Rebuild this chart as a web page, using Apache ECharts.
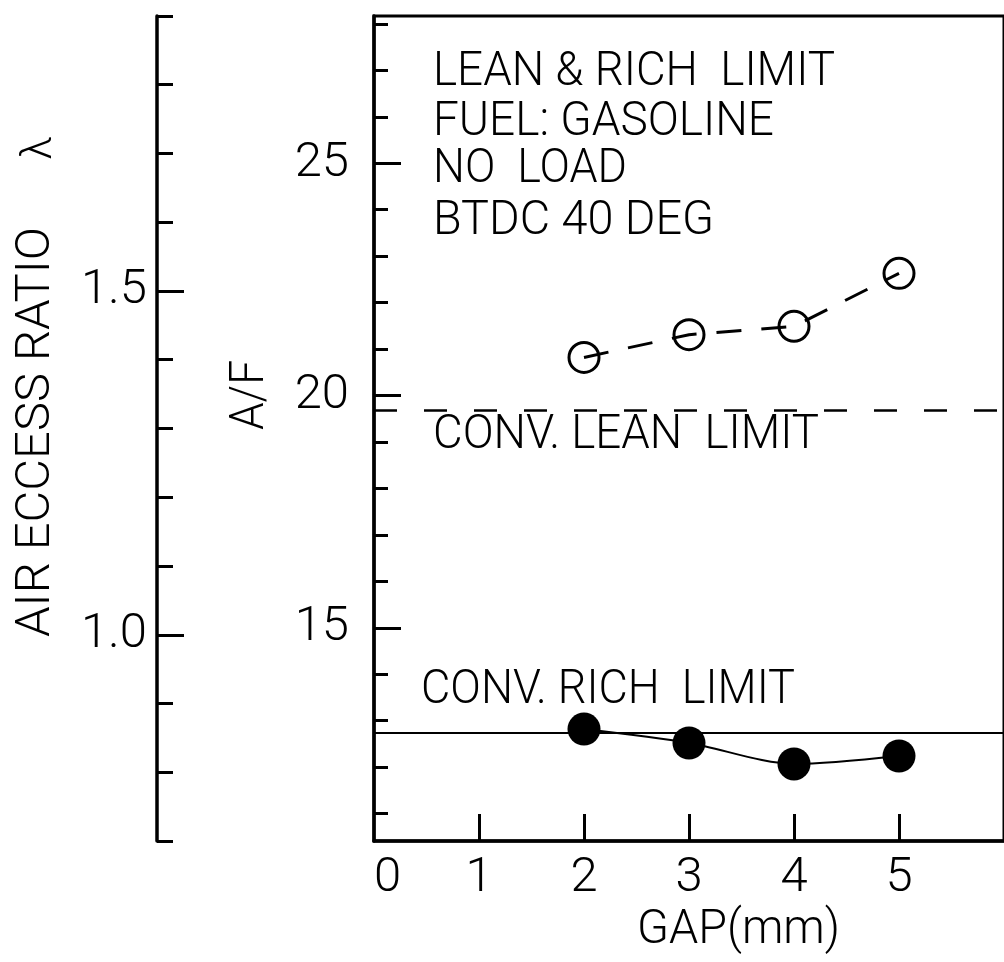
<!DOCTYPE html>
<html>
<head>
<meta charset="utf-8">
<script src="https://cdn.jsdelivr.net/npm/echarts@6/dist/echarts.min.js"></script>
<style>
  html, body { margin: 0; padding: 0; background: #fff; }
  #chart { width: 1004px; height: 962px; }
</style>
</head>
<body>
<div id="chart"></div>
<script>
// Lean and rich misfire limits of the engine versus spark-plug gap
const gapMM = [2, 3, 4, 5];
const leanLimitAF = [20.82, 21.31, 21.49, 22.63];
const richLimitAF = [12.82, 12.52, 12.07, 12.24];
const convLeanAF = 19.68;
const convRichAF = 12.74;

// Axis ranges and tick positions
const gapRange = [0, 6];
const afRange = [10.41, 28.17];
const lambdaRange = [0.7, 1.9];
const gapTicks = [1, 2, 3, 4, 5];
const gapLabels = [0, 1, 2, 3, 4, 5];
const afMinorTicks = [11, 12, 13, 14, 15, 16, 17, 18, 19, 20, 21, 22, 23, 24, 25, 26, 27, 28];
const afMajorTicks = [15, 20, 25];
const lambdaMajorTicks = [1.0, 1.5];

// Text
const noteLines = ['LEAN & RICH  LIMIT', 'FUEL: GASOLINE', 'NO  LOAD', 'BTDC 40 DEG'];
const convLeanText = 'CONV. LEAN  LIMIT';
const convRichText = 'CONV. RICH  LIMIT';
const gapName = 'GAP(mm)';
const afName = 'A/F';
const lambdaName = 'AIR ECCESS RATIO';
const lambdaSymbol = 'λ';

const FONT = 'Roboto, "Liberation Sans", sans-serif';
const WEIGHT = 300;
const INK = '#000';

const measureCtx = document.createElement('canvas').getContext('2d');
function textWidth(str, size, weight) {
  measureCtx.font = weight + ' ' + size + 'px ' + FONT;
  return measureCtx.measureText(str).width;
}
// Plotter-style lettering: narrow glyphs squeezed to a given run length
function caption(str, x, y, span, size, rotated, align, weight) {
  const w = weight || WEIGHT;
  const font = w + ' ' + size + 'px ' + FONT;
  return {
    type: 'text', x: x, y: y, silent: true,
    rotation: rotated ? Math.PI / 2 : 0,
    scaleX: span ? span / textWidth(str, size, w) : 1,
    style: {
      text: str, fill: INK, font: font,
      textAlign: align, textVerticalAlign: 'middle',
      align: align, verticalAlign: 'middle'
    }
  };
}

const labelStyle = { color: INK, fontFamily: FONT, fontWeight: WEIGHT, fontSize: 49 };
const axisLine = { show: true, onZero: false, lineStyle: { color: INK, width: 3.5 } };
const tickLine = { color: INK, width: 3 };

const chart = echarts.init(document.getElementById('chart'), null, { renderer: 'canvas' });

chart.setOption({
  animation: false,
  backgroundColor: '#fff',
  grid: {
    left: 374, top: 16, width: 635, height: 825,
    show: true, borderColor: INK, borderWidth: 3, backgroundColor: 'transparent'
  },
  xAxis: {
    type: 'value', min: gapRange[0], max: gapRange[1],
    axisLine: axisLine,
    axisTick: { inside: true, length: 27, customValues: gapTicks, lineStyle: tickLine },
    axisLabel: Object.assign({}, labelStyle, { customValues: gapLabels, margin: 13, alignMinLabel: 'left' }),
    splitLine: { show: false }
  },
  yAxis: [
    { // A/F scale, unit ticks
      type: 'value', min: afRange[0], max: afRange[1], position: 'left',
      axisLine: axisLine,
      axisTick: { inside: true, length: 14, customValues: afMinorTicks, lineStyle: tickLine },
      axisLabel: { show: false },
      splitLine: { show: false }
    },
    { // A/F scale, labelled ticks
      type: 'value', min: afRange[0], max: afRange[1], position: 'left',
      axisLine: { show: false, onZero: false },
      axisTick: { inside: true, length: 27, customValues: afMajorTicks, lineStyle: tickLine },
      axisLabel: Object.assign({}, labelStyle, { customValues: afMajorTicks, margin: 25 }),
      splitLine: { show: false }
    },
    { // excess air ratio, 0.1 ticks
      type: 'value', min: lambdaRange[0], max: lambdaRange[1], interval: 0.1,
      position: 'left', offset: 217,
      axisLine: axisLine,
      axisTick: { inside: true, length: 16, lineStyle: tickLine },
      axisLabel: { show: false },
      splitLine: { show: false }
    },
    { // excess air ratio, labelled ticks
      type: 'value', min: lambdaRange[0], max: lambdaRange[1],
      position: 'left', offset: 217,
      axisLine: { show: false, onZero: false },
      axisTick: { inside: true, length: 27, customValues: lambdaMajorTicks, lineStyle: tickLine },
      axisLabel: Object.assign({}, labelStyle, {
        customValues: lambdaMajorTicks, margin: 10,
        formatter: function (v) { return Number(v).toFixed(1); }
      }),
      splitLine: { show: false }
    }
  ],
  series: [
    { // lean limit, open circles with dashed connection
      type: 'line', yAxisIndex: 0, z: 3,
      data: gapMM.map(function (g, i) { return [g, leanLimitAF[i]]; }),
      symbol: 'circle', symbolSize: 30,
      itemStyle: { color: 'rgba(255,255,255,0)', borderColor: INK, borderWidth: 3 },
      lineStyle: { color: INK, width: 3, type: [25, 20] },
      emphasis: { disabled: true }
    },
    { // rich limit, filled circles with smooth connection
      type: 'line', yAxisIndex: 0, z: 3,
      data: gapMM.map(function (g, i) { return [g, richLimitAF[i]]; }),
      symbol: 'circle', symbolSize: 33, smooth: 0.3,
      itemStyle: { color: INK },
      lineStyle: { color: INK, width: 2 },
      emphasis: { disabled: true },
      markLine: {
        silent: true, symbol: ['none', 'none'], label: { show: false },
        emphasis: { disabled: true },
        data: [
          { yAxis: convLeanAF, lineStyle: { color: INK, width: 2.5, type: [23, 27] } },
          { yAxis: convRichAF, lineStyle: { color: INK, width: 2, type: 'solid' } }
        ]
      }
    }
  ],
  graphic: [
    caption(noteLines[0], 433, 73, 402, 49, false, 'left'),
    caption(noteLines[1], 433, 123, 341, 49, false, 'left'),
    caption(noteLines[2], 433, 170, 194, 49, false, 'left'),
    caption(noteLines[3], 433, 222, 281, 49, false, 'left'),
    caption(convLeanText, 433, 436, 386, 49, false, 'left'),
    caption(convRichText, 421, 691, 374, 49, false, 'left'),
    caption(gapName, 637, 931, 203, 49, false, 'left'),
    caption(afName, 251, 395, 70, 49, true, 'center'),
    caption(lambdaName, 37, 432, 410, 49, true, 'center'),
    caption(lambdaSymbol, 40, 148, 0, 42, true, 'center', 300)
  ]
});
</script>
</body>
</html>
